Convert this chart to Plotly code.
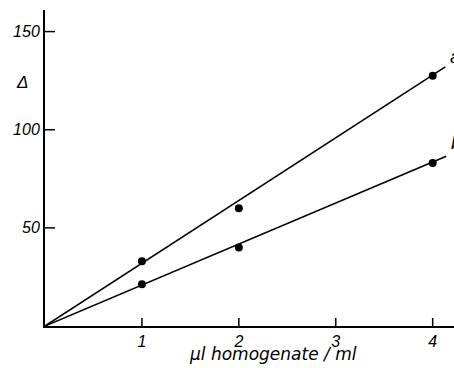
import plotly.graph_objects as go

# data
conc = [1, 2, 4]
series_a = [33, 60, 127.5]
series_b = [21.3, 40, 83]
fit_a_x = [0, 4.13]
fit_a_y = [0, 132]
fit_b_x = [0, 4.14]
fit_b_y = [0, 86.5]
x_ticks = [1, 2, 3, 4]
y_ticks = [50, 100, 150]

tickfont = dict(family="Liberation Sans", size=16, color="black")

fig = go.Figure()
for fx, fy in [(fit_a_x, fit_a_y), (fit_b_x, fit_b_y)]:
    fig.add_trace(go.Scatter(x=fx, y=fy, mode="lines",
                             line=dict(color="black", width=1.6),
                             showlegend=False, hoverinfo="skip", cliponaxis=False))
for ys in [series_a, series_b]:
    fig.add_trace(go.Scatter(x=conc, y=ys, mode="markers",
                             marker=dict(color="black", size=8),
                             showlegend=False, cliponaxis=False))

# inward tick marks, anchored on the axes through the library's scales
for v in x_ticks:
    fig.add_shape(type="line", xref="x", yref="y", x0=v, x1=v,
                  ysizemode="pixel", yanchor=0, y0=0, y1=8,
                  line=dict(color="black", width=1.5))
for v in y_ticks:
    fig.add_shape(type="line", xref="x", yref="y", y0=v, y1=v,
                  xsizemode="pixel", xanchor=0, x0=0, x1=10,
                  line=dict(color="black", width=1.5))

fig.update_layout(
    width=454, height=368,
    margin=dict(l=45, r=0, t=10, b=42),
    paper_bgcolor="white", plot_bgcolor="white",
    xaxis=dict(range=[0, 4.22], tickmode="array", tickvals=x_ticks,
               ticktext=["<i>%d</i>" % v for v in x_ticks], ticks="",
               showline=True, linecolor="black", linewidth=2,
               showgrid=False, zeroline=False, tickfont=tickfont),
    yaxis=dict(range=[0, 161], tickmode="array", tickvals=y_ticks,
               ticktext=["<i>%d</i>" % v for v in y_ticks], ticks="",
               showline=True, linecolor="black", linewidth=2,
               showgrid=False, zeroline=False, tickfont=tickfont),
    annotations=[
        dict(text="<i>µl homogenate / ml</i>", xref="paper", yref="paper",
             x=0.557, y=-0.09, xanchor="center", yanchor="middle", showarrow=False,
             font=dict(family="DejaVu Sans", size=17, color="black")),
        dict(text="<i>Δ</i>", xref="paper", yref="paper", x=-0.056, y=0.772,
             xanchor="center", yanchor="middle", showarrow=False,
             font=dict(family="Liberation Sans", size=17, color="black")),
        dict(text="<i>a</i>", xref="x", yref="y", x=4.16, y=137, xanchor="left",
             yanchor="middle", showarrow=False,
             font=dict(family="Liberation Sans", size=18, color="black")),
        dict(text="<i>b</i>", xref="x", yref="y", x=4.17, y=93, xanchor="left",
             yanchor="middle", showarrow=False,
             font=dict(family="Liberation Sans", size=18, color="black")),
    ],
)

fig.write_html("out.html")
